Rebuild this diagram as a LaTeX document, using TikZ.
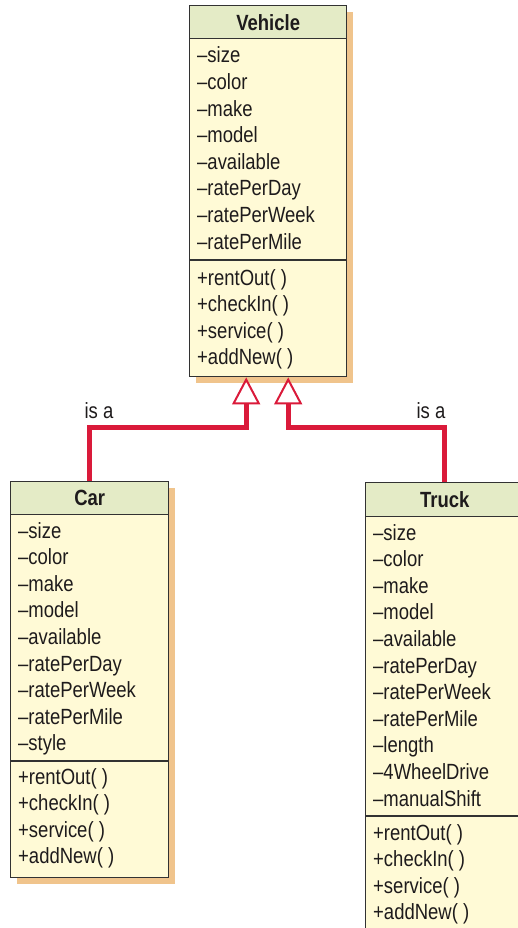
\documentclass[tikz,border=0pt]{standalone}
\usepackage{fontspec}
\setmainfont{Liberation Sans}[FakeStretch=0.84]
\usetikzlibrary{arrows.meta,shadows}
\definecolor{hdrgreen}{RGB}{228,235,198}
\definecolor{bodyyellow}{RGB}{255,250,214}
\definecolor{shadoworange}{RGB}{240,196,140}
\definecolor{edgegray}{RGB}{50,50,50}
\definecolor{isared}{RGB}{218,26,58}
\definecolor{txt}{RGB}{30,27,28}
\begin{document}
\begin{tikzpicture}[x=1pt,y=-1pt,
 classbox/.style={draw=edgegray, line width=1.4pt, fill=bodyyellow, anchor=north west, inner sep=0pt,
   drop shadow={shadow xshift=6pt, shadow yshift=-6pt, fill=shadoworange, opacity=1}},
 hdr/.style={draw=edgegray, line width=1.4pt, fill=hdrgreen, anchor=north, inner sep=0pt,
   font=\bfseries\fontsize{22}{22}\selectfont, text=txt},
 member/.style={anchor=base west, inner sep=0pt, font=\fontsize{22}{22}\selectfont, text=txt},
 sepline/.style={draw=edgegray, line width=1.4pt},
 isa/.style={draw=isared, line width=5pt, -{Triangle[open, length=27pt, width=28pt, line width=2pt]}},
 lbl/.style={font=\fontsize{22}{22}\selectfont, text=txt, inner sep=0pt}
]
\useasboundingbox (0,0) rectangle (518,928);

% Vehicle
\node[classbox, minimum width=157pt, minimum height=371pt] (veh) at (189,5) {};
\node[hdr, minimum width=157pt, minimum height=33pt] (vehT) at (veh.north) {Vehicle};
\draw[sepline] ([yshift=-255pt]veh.north west) -- ([yshift=-255pt]veh.north east);
\foreach \t [count=\i from 0] in {–size,–color,–make,–model,–available,–ratePerDay,–ratePerWeek,–ratePerMile}
  \node[member] (vehA\i) at ([xshift=8pt,yshift={-58pt-\i*26.6pt}]veh.north west) {\t};
\foreach \t [count=\i from 0] in {+rentOut( ),+checkIn( ),+service( ),+addNew( )}
  \node[member] (vehM\i) at ([xshift=8pt,yshift={-280pt-\i*26.6pt}]veh.north west) {\t};

% Car
\node[classbox, minimum width=158pt, minimum height=396pt] (car) at (10,481) {};
\node[hdr, minimum width=158pt, minimum height=33pt] (carT) at (car.north) {Car};
\draw[sepline] ([yshift=-280pt]car.north west) -- ([yshift=-280pt]car.north east);
\foreach \t [count=\i from 0] in {–size,–color,–make,–model,–available,–ratePerDay,–ratePerWeek,–ratePerMile,–style}
  \node[member] (carA\i) at ([xshift=8pt,yshift={-57pt-\i*26.6pt}]car.north west) {\t};
\foreach \t [count=\i from 0] in {+rentOut( ),+checkIn( ),+service( ),+addNew( )}
  \node[member] (carM\i) at ([xshift=8pt,yshift={-303pt-\i*26.6pt}]car.north west) {\t};

% Truck
\node[classbox, minimum width=158pt, minimum height=450pt] (truck) at (365,482) {};
\node[hdr, minimum width=158pt, minimum height=34pt] (truckT) at (truck.north) {Truck};
\draw[sepline] ([yshift=-334pt]truck.north west) -- ([yshift=-334pt]truck.north east);
\foreach \t [count=\i from 0] in {–size,–color,–make,–model,–available,–ratePerDay,–ratePerWeek,–ratePerMile,–length,–4WheelDrive,–manualShift}
  \node[member] (truckA\i) at ([xshift=8pt,yshift={-58pt-\i*26.6pt}]truck.north west) {\t};
\foreach \t [count=\i from 0] in {+rentOut( ),+checkIn( ),+service( ),+addNew( )}
  \node[member] (truckM\i) at ([xshift=8pt,yshift={-358pt-\i*26.6pt}]truck.north west) {\t};

% generalization connectors
\draw[isa] (car.north) |- ([xshift=-22pt,yshift=-50pt]veh.south) -- ([xshift=-22pt]veh.south);
\draw[isa] (truck.north) |- ([xshift=20pt,yshift=-50pt]veh.south) -- ([xshift=20pt]veh.south);
\node[lbl] (isaL) at (99,411) {is a};
\node[lbl] (isaR) at (431,411) {is a};
\end{tikzpicture}
\end{document}
